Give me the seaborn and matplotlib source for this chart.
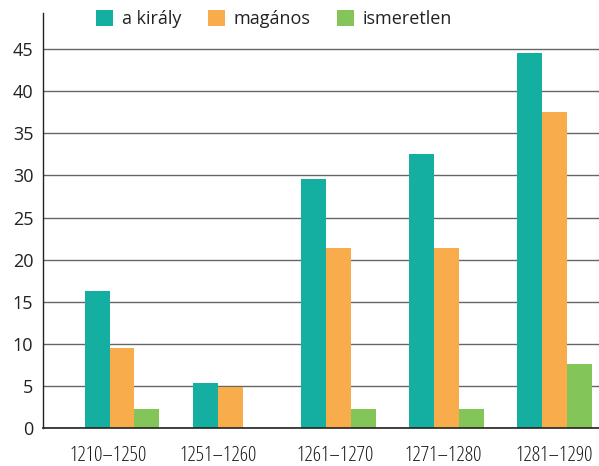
import matplotlib
matplotlib.use("Agg")
import matplotlib.pyplot as plt
import matplotlib.transforms as mtransforms
import seaborn as sns
import pandas as pd

periods = ["1210–1250", "1251–1260", "1261–1270", "1271–1280", "1281–1290"]
series_names = ["a király", "magános", "ismeretlen"]
kiraly = [16.3, 5.4, 29.6, 32.5, 44.5]
maganos = [9.5, 4.9, 21.4, 21.4, 37.5]
ismeretlen = [2.3, 0.0, 2.3, 2.3, 7.6]
colors = ["#15AFA2", "#F9AC4B", "#84C55A"]
yticks = [0, 5, 10, 15, 20, 25, 30, 35, 40, 45]

rows = []
for name, vals in zip(series_names, [kiraly, maganos, ismeretlen]):
    for p, v in zip(periods, vals):
        rows.append({"period": p, "type": name, "value": v})
df = pd.DataFrame(rows)

sns.set_style("white")
plt.rcParams["font.family"] = ["Open Sans", "DejaVu Sans"]

fig = plt.figure(figsize=(5.99, 4.66), dpi=100)
ax = fig.add_axes([43/599, 1 - 428/466, 1 - 43/599, (428 - 13)/466])

sns.barplot(data=df, x="period", y="value", hue="type", order=periods,
            hue_order=series_names, palette=colors, saturation=1,
            width=0.69, ax=ax, legend=True)
for b in ax.patches:
    b.set_linewidth(0)

ax.set_xlim(-0.73, 4.41)
ax.set_ylim(0, 49.3)
ax.set_yticks(yticks)
ax.set_yticklabels([str(t) for t in yticks])
ax.yaxis.grid(True, color="#666666", linewidth=1.0)
ax.set_axisbelow(True)
ax.set_xlabel("")
ax.set_ylabel("")
for s in ["top", "right"]:
    ax.spines[s].set_visible(False)
ax.spines["left"].set_color("#222222")
ax.spines["bottom"].set_color("#222222")
ax.spines["left"].set_linewidth(1.0)
ax.spines["bottom"].set_linewidth(1.2)
ax.tick_params(axis="y", length=4, width=1, color="#222222", labelsize=13, pad=3, labelcolor="#222222")
ax.tick_params(axis="x", length=0, labelsize=15, pad=13, labelcolor="#1a1a1a")
label_shift_px = [-14, -12, -3, -3, 0]
for t, dx in zip(ax.get_xticklabels(), label_shift_px):
    t.set_fontstretch("condensed")
    t.set_transform(t.get_transform() + mtransforms.ScaledTranslation(dx / 100, 0, fig.dpi_scale_trans))

handles, labels = ax.get_legend_handles_labels()
ax.get_legend().remove()
fig.legend(handles, labels, loc="center", bbox_to_anchor=(0.4574, 1 - 19/466),
           ncol=3, frameon=False, fontsize=13, handlelength=0.94, handleheight=0.94,
           handletextpad=0.5, columnspacing=1.45, labelcolor="#222222")

fig.savefig("out.png", dpi=100)
